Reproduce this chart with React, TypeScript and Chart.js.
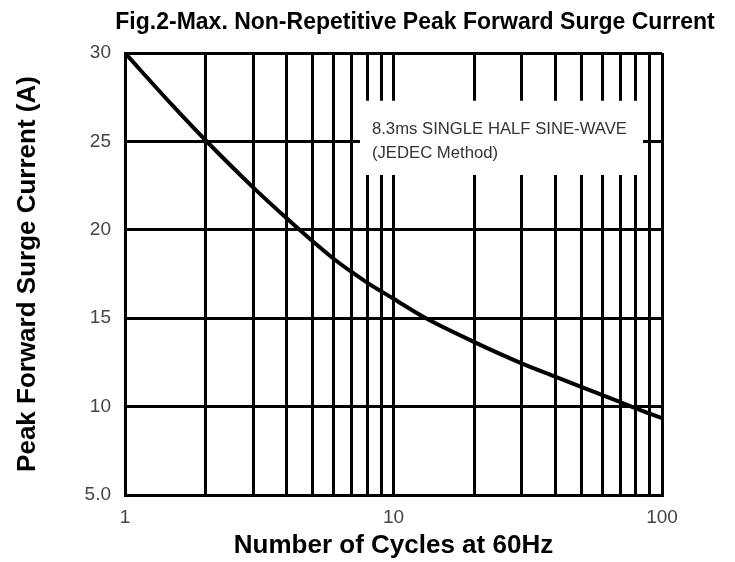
import React, { useEffect, useRef } from "react";
import { Chart, registerables } from "chart.js";

Chart.register(...registerables);

// Curve: number of cycles vs. peak forward surge current (A)
const cycles = [1, 1.5, 2, 3, 4, 5, 6, 7, 8, 10, 13, 20, 30, 40, 50, 60, 70, 80, 90, 100];
const surgeCurrent = [30, 27.05, 25.05, 22.4, 20.65, 19.35, 18.35, 17.6, 17.0, 16.1, 15.05, 13.65, 12.45, 11.7, 11.12, 10.65, 10.25, 9.9, 9.6, 9.35];

// Axis grid / tick labels
const xGridValues = [1, 2, 3, 4, 5, 6, 7, 8, 9, 10, 20, 30, 40, 50, 60, 70, 80, 90, 100];
const xLabelValues = [1, 10, 100];
const yTickValues = [5, 10, 15, 20, 25, 30];
const yTickLabels = ["5.0", "10", "15", "20", "25", "30"];

const titleText = "Fig.2-Max. Non-Repetitive Peak Forward Surge Current";
const xTitle = "Number of Cycles at 60Hz";
const yTitle = "Peak Forward Surge Current (A)";
const noteLines = ["8.3ms SINGLE HALF SINE-WAVE", "(JEDEC Method)"];

const FONT = "Arial, 'Liberation Sans', Helvetica, sans-serif";

export default function App() {
  const ref = useRef<HTMLCanvasElement | null>(null);

  useEffect(() => {
    if (!ref.current) return;

    const notePlugin = {
      id: "notePlugin",
      beforeDatasetsDraw(chart: any) {
        const { ctx } = chart;
        const xs = chart.scales.x;
        const ys = chart.scales.y;
        const left = xs.getPixelForValue(7.5);
        const right = xs.getPixelForValue(85);
        const top = ys.getPixelForValue(27.3);
        const bottom = ys.getPixelForValue(23.1);
        ctx.save();
        ctx.fillStyle = "#ffffff";
        ctx.fillRect(left, top, right - left, bottom - top);
        ctx.fillStyle = "#333333";
        ctx.font = `16.7px ${FONT}`;
        ctx.textAlign = "left";
        ctx.textBaseline = "middle";
        ctx.fillText(noteLines[0], left + 12, top + 29);
        ctx.fillText(noteLines[1], left + 12, top + 53);
        ctx.restore();
      },
    };

    const titlePlugin = {
      id: "titlePlugin",
      afterDraw(chart: any) {
        const { ctx } = chart;
        ctx.save();
        ctx.fillStyle = "#000";
        ctx.font = `bold 23px ${FONT}`;
        ctx.textAlign = "center";
        ctx.textBaseline = "alphabetic";
        ctx.fillText(titleText, 415, 29);
        ctx.restore();
      },
    };

    const chart = new Chart(ref.current, {
      type: "line",
      data: {
        datasets: [
          {
            data: cycles.map((c, i) => ({ x: c, y: surgeCurrent[i] })),
            borderColor: "#000",
            borderWidth: 4,
            pointRadius: 0,
            cubicInterpolationMode: "monotone",
            fill: false,
          },
        ],
      },
      options: {
        animation: false,
        responsive: true,
        maintainAspectRatio: false,
        layout: { padding: { top: 53, right: 73, left: 0, bottom: 0 } },
        plugins: {
          legend: { display: false },
          tooltip: { enabled: false },
          title: { display: false },
        },
        scales: {
          x: {
            type: "logarithmic",
            min: 1,
            max: 100,
            afterBuildTicks: (s: any) => {
              s.ticks = xGridValues.map((v) => ({ value: v }));
            },
            afterFit: (s: any) => {
              s.height = 67;
            },
            ticks: {
              autoSkip: false,
              maxRotation: 0,
              padding: 11,
              color: "#444",
              font: { family: FONT, size: 19 },
              callback: (v: any) => (xLabelValues.includes(Number(v)) ? String(v) : ""),
            },
            grid: { color: "#000", lineWidth: 3, drawTicks: false },
            border: { display: true, color: "#000", width: 3 },
            title: {
              display: true,
              text: xTitle,
              color: "#000",
              font: { family: FONT, size: 26, weight: "bold" },
              padding: { top: 0, bottom: 1 },
            },
          },
          y: {
            type: "linear",
            min: 5,
            max: 30,
            afterBuildTicks: (s: any) => {
              s.ticks = yTickValues.map((v) => ({ value: v }));
            },
            afterFit: (s: any) => {
              s.width = 125;
            },
            ticks: {
              padding: 14,
              color: "#444",
              font: { family: FONT, size: 19 },
              callback: (v: any) => {
                const i = yTickValues.indexOf(Number(v));
                return i >= 0 ? yTickLabels[i] : "";
              },
            },
            grid: { color: "#000", lineWidth: 3, drawTicks: false },
            border: { display: true, color: "#000", width: 3 },
            title: {
              display: true,
              text: yTitle,
              color: "#000",
              font: { family: FONT, size: 26, weight: "bold" },
              padding: { top: 12, bottom: 0 },
            },
          },
        },
      },
      plugins: [notePlugin, titlePlugin],
    } as any);

    return () => chart.destroy();
  }, []);

  return (
    <div style={{ position: "fixed", left: 0, top: 0, width: 735, height: 562, background: "#fff" }}>
      <canvas ref={ref} />
    </div>
  );
}
